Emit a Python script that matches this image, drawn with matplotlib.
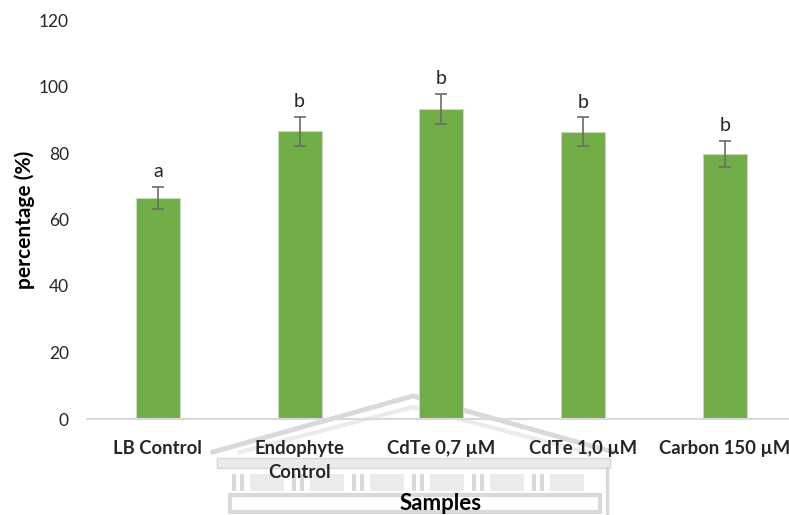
import matplotlib
matplotlib.use("Agg")
import matplotlib.pyplot as plt
from matplotlib.patches import Rectangle
from matplotlib.lines import Line2D

plt.rcParams['font.family'] = ['Lato', 'DejaVu Sans']

# Data
samples = ["LB Control", "Endophyte\nControl", "CdTe 0,7 \u00b5M", "CdTe 1,0 \u00b5M", "Carbon 150 \u00b5M"]
percentages = [66.5, 86.5, 93.2, 86.4, 79.7]
errors = [3.3, 4.3, 4.5, 4.3, 4.0]
letters = ["a", "b", "b", "b", "b"]
y_ticks = [0, 20, 40, 60, 80, 100, 120]

W, H = 789, 515
fig = plt.figure(figsize=(W / 100, H / 100), dpi=100)
fig.patch.set_facecolor("white")

# Faint building emblem in the background
bg = fig.add_axes([0, 0, 1, 1], zorder=0)
bg.set_xlim(0, W)
bg.set_ylim(H, 0)
bg.axis("off")
wm = "#d9d9d9"
wm_light = "#ebebeb"
bg.add_line(Line2D([213, 413, 613], [452, 396, 452], color=wm, lw=3.5))
bg.add_line(Line2D([240, 413, 586], [452, 407, 452], color=wm_light, lw=3))
bg.add_patch(Rectangle((217, 458), 393, 10, facecolor=wm_light, edgecolor=wm, lw=1))
bg.add_patch(Rectangle((230, 495), 370, 17, facecolor="none", edgecolor=wm, lw=3))
bg.add_line(Line2D([607, 607], [468, 515], color=wm, lw=2.5))
for x0 in [232, 292, 352, 412, 472, 532]:
    bg.add_patch(Rectangle((x0, 474), 4, 17, facecolor=wm, edgecolor="none"))
    bg.add_patch(Rectangle((x0 + 8, 474), 4, 17, facecolor=wm, edgecolor="none"))
    bg.add_patch(Rectangle((x0 + 18, 474), 34, 17, facecolor=wm_light, edgecolor="none"))

# Main chart
left = 87 / W
bottom = (H - 419) / H
height = (419 - 20) / H
ax = fig.add_axes([left, bottom, 1 - left, height], zorder=1)
ax.patch.set_alpha(0)

x = list(range(len(samples)))
ax.bar(x, percentages, width=0.31, color="#70ad47", edgecolor="#d0d0d0", linewidth=0.8,
       yerr=errors, error_kw=dict(ecolor="#6a6a6a", elinewidth=1.2, capsize=4, capthick=1.2),
       zorder=2)

for xi, v, e, lab in zip(x, percentages, errors, letters):
    ax.annotate(lab, (xi, v + e), xytext=(0, 11), textcoords="offset points",
                ha="center", va="center", fontsize=14, color="#262626")

ax.set_xlim(-0.5, 4.454)
ax.set_ylim(0, 120)
ax.set_yticks(y_ticks)
ax.set_yticklabels([str(t) for t in y_ticks], fontsize=12.5, color="#262626")
ax.set_xticks(x)
ax.set_xticklabels(samples, fontsize=13.3, fontweight="bold", color="#262626",
                   linespacing=1.5, va="top")

for s in ["top", "right", "left"]:
    ax.spines[s].set_visible(False)
ax.spines["bottom"].set_color("#d9d9d9")
ax.spines["bottom"].set_linewidth(1.5)
ax.tick_params(axis="both", length=0)
ax.tick_params(axis="x", pad=15)
ax.tick_params(axis="y", pad=13)

fig.text(25 / W, 1 - 220 / H, "percentage (%)", rotation=90, ha="center", va="center",
         fontsize=15, fontweight="bold", color="#000000")
fig.text(441 / W, 1 - 504 / H, "Samples", ha="center", va="center",
         fontsize=16, fontweight="bold", color="#000000")

fig.savefig("out.png", dpi=100, facecolor="white")
